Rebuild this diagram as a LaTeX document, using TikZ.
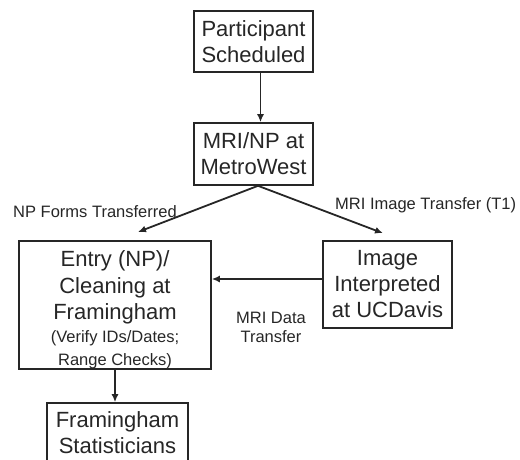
\documentclass[tikz,border=0pt]{standalone}
\usepackage{fontspec}
\setmainfont{Liberation Sans}
\usetikzlibrary{arrows.meta}
\begin{document}
\begin{tikzpicture}[x=1pt,y=-1pt,
  box/.style={draw=black!85, line width=1.6pt, inner sep=0pt, align=center,
    font=\fontsize{22}{26}\selectfont, text=black!85},
  arr/.style={draw=black!85, line width=1.8pt, -{Latex[length=8pt,width=7pt]}},
  lab/.style={font=\fontsize{16.5}{19.5}\selectfont, text=black!85, inner sep=0pt, align=center}]
\useasboundingbox (0,0) rectangle (520,459);
\clip (0,0) rectangle (520,459);
\node[box, minimum width=119pt, minimum height=61pt] (P) at (253.5,41.5) {Participant\\Scheduled};
\node[box, minimum width=119pt, minimum height=62pt] (M) at (253.5,154) {MRI/NP at\\MetroWest};
\node[box, minimum width=192pt, minimum height=128pt] (E) at (115,305)
  {\rule{0pt}{26pt}Entry (NP)/\\[0.5pt]Cleaning at\\[0.5pt]Framingham\\[-3pt]{\fontsize{16.5}{21}\selectfont (Verify IDs/Dates;}\\[-3pt]{\fontsize{16.5}{21}\selectfont Range Checks)}};
\node[box, minimum width=129pt, minimum height=87pt] (U) at (387.5,284.5) {Image\\Interpreted\\at UCDavis};
\node[box, minimum width=141pt, minimum height=60pt] (S) at (117.5,433) {Framingham\\Statisticians};
\coordinate (fork) at ([xshift=4.5pt]M.south);
\draw[arr] ([xshift=7pt]P.south) -- ([xshift=7pt]M.north);
\draw[arr] (fork) -- ([xshift=23pt,yshift=8pt]E.north);
\draw[arr] (fork) -- ([xshift=-4.5pt,yshift=7pt]U.north);
\draw[arr] ([yshift=5.5pt]U.west) -- ([yshift=5.5pt]U.west -| E.east);
\draw[arr] (E.south) -- (E.south |- S.north);
\node[lab, anchor=west] (l1) at (13,212) {NP Forms Transferred};
\node[lab, anchor=west] (l2) at (335,205) {MRI Image Transfer (T1)};
\node[lab] (l3) at (271,327.5) {MRI Data\\Transfer};
\end{tikzpicture}
\end{document}
